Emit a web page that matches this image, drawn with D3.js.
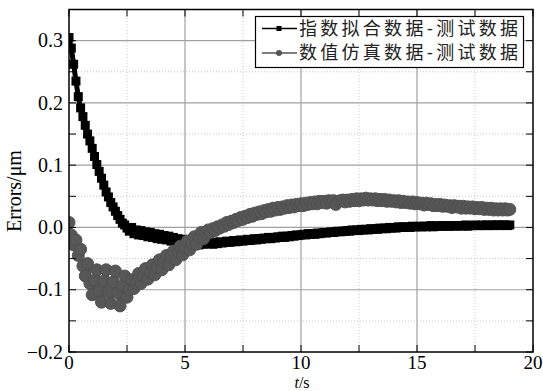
<!DOCTYPE html>
<html>
<head>
<meta charset="utf-8">
<script src="https://cdn.jsdelivr.net/npm/d3@7"></script>
<style>
  body { margin: 0; background: #fff; }
  svg { display: block; }
</style>
</head>
<body>
<figure id="chart" style="margin:0"></figure>
<script>
// sample interval of both recorded series (s)
const sampleStep = 0.1;

// 指数拟合数据-测试数据, t = 0 .. 19 s
const fitErrors = [
  0.305, 0.288, 0.262, 0.235, 0.21, 0.192, 0.178, 0.164, 0.15, 0.139,
  0.127, 0.114, 0.101, 0.09, 0.079, 0.068, 0.057, 0.049, 0.04, 0.033,
  0.026, 0.019, 0.013, 0.007, 0.004, -0.001, -0.006, 0.0, -0.01, -0.004,
  -0.012, -0.005, -0.013, -0.007, -0.015, -0.008, -0.016, -0.01, -0.018, -0.011,
  -0.019, -0.013, -0.02, -0.014, -0.022, -0.016, -0.023, -0.018, -0.024, -0.019,
  -0.025, -0.021, -0.026, -0.022, -0.027, -0.023, -0.028, -0.024, -0.027, -0.024,
  -0.026, -0.025, -0.027, -0.024, -0.026, -0.023, -0.025, -0.024, -0.022, -0.024,
  -0.023, -0.021, -0.023, -0.022, -0.02, -0.022, -0.021, -0.019, -0.021, -0.02,
  -0.018, -0.02, -0.018, -0.019, -0.017, -0.018, -0.016, -0.018, -0.016, -0.017,
  -0.015, -0.016, -0.014, -0.016, -0.014, -0.015, -0.013, -0.014, -0.012, -0.013,
  -0.012, -0.011, -0.012, -0.01, -0.011, -0.01, -0.011, -0.009, -0.01, -0.009,
  -0.008, -0.009, -0.008, -0.007, -0.008, -0.007, -0.006, -0.007, -0.006, -0.006,
  -0.005, -0.006, -0.004, -0.005, -0.004, -0.005, -0.003, -0.004, -0.003, -0.004,
  -0.002, -0.003, -0.002, -0.003, -0.001, -0.002, -0.001, -0.002, 0.0, -0.001,
  0.0, -0.001, 0.001, 0.0, 0.001, 0.0, 0.001, 0.0, 0.002, 0.001,
  0.001, 0.002, 0.001, 0.002, 0.001, 0.002, 0.003, 0.001, 0.002, 0.002,
  0.003, 0.002, 0.002, 0.003, 0.002, 0.003, 0.002, 0.003, 0.003, 0.002,
  0.003, 0.004, 0.002, 0.003, 0.003, 0.004, 0.003, 0.003, 0.004, 0.003,
  0.004, 0.003, 0.004, 0.003, 0.004, 0.004, 0.003, 0.004, 0.004, 0.003,
  0.004
];

// 数值仿真数据-测试数据, t = 0 .. 19 s
const simErrors = [
  0.008, -0.012, -0.028, -0.02, -0.045, -0.035, -0.062, -0.078, -0.058, -0.09,
  -0.108, -0.085, -0.068, -0.102, -0.12, -0.086, -0.068, -0.104, -0.122, -0.088,
  -0.07, -0.105, -0.126, -0.094, -0.078, -0.112, -0.1, -0.084, -0.098, -0.09,
  -0.074, -0.09, -0.078, -0.066, -0.083, -0.072, -0.06, -0.076, -0.064, -0.052,
  -0.068, -0.056, -0.045, -0.06, -0.048, -0.038, -0.052, -0.04, -0.03, -0.044,
  -0.032, -0.022, -0.036, -0.025, -0.015, -0.027, -0.016, -0.008, -0.018, -0.008,
  -0.004, -0.008, -0.002, -0.005, 0.001, -0.001, 0.004, 0.002, 0.008, 0.005,
  0.01, 0.008, 0.013, 0.011, 0.016, 0.013, 0.018, 0.016, 0.021, 0.018,
  0.023, 0.021, 0.025, 0.022, 0.027, 0.025, 0.029, 0.026, 0.031, 0.028,
  0.032, 0.029, 0.033, 0.031, 0.035, 0.032, 0.036, 0.033, 0.037, 0.035,
  0.038, 0.035, 0.039, 0.037, 0.04, 0.038, 0.041, 0.038, 0.042, 0.04,
  0.042, 0.039, 0.043, 0.041, 0.043, 0.037, 0.042, 0.043, 0.044, 0.041,
  0.044, 0.042, 0.045, 0.043, 0.046, 0.043, 0.046, 0.044, 0.047, 0.044,
  0.046, 0.044, 0.046, 0.043, 0.045, 0.043, 0.045, 0.042, 0.044, 0.042,
  0.043, 0.041, 0.043, 0.04, 0.042, 0.04, 0.041, 0.039, 0.041, 0.038,
  0.04, 0.038, 0.039, 0.036, 0.039, 0.037, 0.038, 0.035, 0.037, 0.035,
  0.037, 0.034, 0.036, 0.034, 0.035, 0.032, 0.035, 0.033, 0.034, 0.031,
  0.034, 0.031, 0.033, 0.031, 0.033, 0.03, 0.032, 0.03, 0.032, 0.029,
  0.031, 0.029, 0.031, 0.028, 0.03, 0.028, 0.03, 0.028, 0.03, 0.028,
  0.029
];

const seriesNames = ["指数拟合数据-测试数据", "数值仿真数据-测试数据"];
const xMajorTicks = [0, 5, 10, 15, 20];
const xMinorTicks = [2.5, 7.5, 12.5, 17.5];
const yMajorTicks = [-0.2, -0.1, 0.0, 0.1, 0.2, 0.3];
const yMinorTicks = [-0.15, -0.05, 0.05, 0.15, 0.25];

const width = 543, height = 391;
const margin = { top: 9.5, right: 10, bottom: 39, left: 69 };

const svg = d3.select("figure#chart")
  .append("svg")
  .attr("width", width)
  .attr("height", height);

const x = d3.scaleLinear()
  .domain([0, 20])
  .range([margin.left, width - margin.right]);

const y = d3.scaleLinear()
  .domain([-0.2, 0.35])
  .range([height - margin.bottom, margin.top]);

const x0 = x.range()[0], x1 = x.range()[1];
const y0 = y.range()[0], y1 = y.range()[1];

// grid: dotted minor, solid major
const grid = svg.append("g");
grid.selectAll(".xminor").data(xMinorTicks).enter().append("line")
  .attr("x1", d => x(d)).attr("x2", d => x(d)).attr("y1", y0).attr("y2", y1)
  .attr("stroke", "#c8c8c8").attr("stroke-dasharray", "1,2");
grid.selectAll(".yminor").data(yMinorTicks).enter().append("line")
  .attr("y1", d => y(d)).attr("y2", d => y(d)).attr("x1", x0).attr("x2", x1)
  .attr("stroke", "#c8c8c8").attr("stroke-dasharray", "1,2");
grid.selectAll(".xmajor").data(xMajorTicks.slice(1, -1)).enter().append("line")
  .attr("x1", d => x(d)).attr("x2", d => x(d)).attr("y1", y0).attr("y2", y1)
  .attr("stroke", "#a0a0a0").attr("stroke-width", 1.2);
grid.selectAll(".ymajor").data(yMajorTicks.slice(1)).enter().append("line")
  .attr("y1", d => y(d)).attr("y2", d => y(d)).attr("x1", x0).attr("x2", x1)
  .attr("stroke", "#a0a0a0").attr("stroke-width", 1.2);

svg.append("clipPath").attr("id", "plotclip")
  .append("rect")
  .attr("x", x0).attr("y", y1).attr("width", x1 - x0).attr("height", y0 - y1);

const plot = svg.append("g").attr("clip-path", "url(#plotclip)");

const line = d3.line()
  .x((d, i) => x(i * sampleStep))
  .y(d => y(d));

// black squares series
plot.append("path")
  .datum(fitErrors)
  .attr("fill", "none")
  .attr("stroke", "#000")
  .attr("stroke-width", 5)
  .attr("stroke-linejoin", "round")
  .attr("d", line);

plot.selectAll(".sq").data(fitErrors).enter().append("rect")
  .attr("x", (d, i) => x(i * sampleStep) - 4.5)
  .attr("y", d => y(d) - 4.5)
  .attr("width", 9)
  .attr("height", 9)
  .attr("fill", "#000");

// gray circles series
plot.append("path")
  .datum(simErrors)
  .attr("fill", "none")
  .attr("stroke", "#555")
  .attr("stroke-width", 5)
  .attr("stroke-linejoin", "round")
  .attr("d", line);

plot.selectAll(".ci").data(simErrors).enter().append("circle")
  .attr("cx", (d, i) => x(i * sampleStep))
  .attr("cy", d => y(d))
  .attr("r", 6)
  .attr("fill", "#575757")
  .attr("stroke", "#505050")
  .attr("stroke-width", 1);

// axes with inward ticks on all four sides
const tickLen = 7;
const ticks = svg.append("g").attr("stroke", "#000").attr("stroke-width", 1);
const xAll = xMajorTicks.concat(xMinorTicks);
const yAll = yMajorTicks.concat(yMinorTicks);
ticks.selectAll(".xb").data(xAll).enter().append("line")
  .attr("x1", d => x(d)).attr("x2", d => x(d)).attr("y1", y0).attr("y2", y0 - tickLen);
ticks.selectAll(".xt").data(xAll).enter().append("line")
  .attr("x1", d => x(d)).attr("x2", d => x(d)).attr("y1", y1).attr("y2", y1 + tickLen);
ticks.selectAll(".yl").data(yAll).enter().append("line")
  .attr("y1", d => y(d)).attr("y2", d => y(d)).attr("x1", x0).attr("x2", x0 + tickLen);
ticks.selectAll(".yr").data(yAll).enter().append("line")
  .attr("y1", d => y(d)).attr("y2", d => y(d)).attr("x1", x1).attr("x2", x1 - tickLen);

svg.append("rect")
  .attr("x", x0).attr("y", y1).attr("width", x1 - x0).attr("height", y0 - y1)
  .attr("fill", "none").attr("stroke", "#000").attr("stroke-width", 1.5);

const fontSerif = "'Liberation Serif', 'Times New Roman', serif";

svg.selectAll(".xlab").data(xMajorTicks).enter().append("text")
  .attr("x", d => x(d))
  .attr("y", y0 + 17)
  .attr("text-anchor", "middle")
  .style("font-family", fontSerif)
  .style("font-size", "19px")
  .text(d => d);

svg.selectAll(".ylab").data(yMajorTicks).enter().append("text")
  .attr("x", x0 - 6)
  .attr("y", d => y(d))
  .attr("dy", "0.33em")
  .attr("text-anchor", "end")
  .style("font-family", fontSerif)
  .style("font-size", "20px")
  .text(d => d3.format(".1f")(d).replace("-", "\u2212"));

// axis titles
const xt = svg.append("text")
  .attr("x", (x0 + x1) / 2 + 1)
  .attr("y", 387.5)
  .attr("text-anchor", "middle")
  .style("font-family", fontSerif)
  .style("font-size", "16px");
xt.append("tspan").style("font-style", "italic").text("t");
xt.append("tspan").text("/s");

svg.append("text")
  .attr("transform", "translate(21," + 191 + ") rotate(-90)")
  .attr("text-anchor", "middle")
  .style("font-family", fontSerif)
  .style("font-size", "20px")
  .text("Errors/μm");

// legend
const legend = svg.append("g");
legend.append("rect")
  .attr("x", 255.5).attr("y", 16.5).attr("width", 268).attr("height", 51)
  .attr("fill", "#fff").attr("stroke", "#000").attr("stroke-width", 1.2);

const legendRows = [
  { name: seriesNames[0], color: "#000", y: 28.5 },
  { name: seriesNames[1], color: "#555", y: 53 }
];

legendRows.forEach((r, i) => {
  legend.append("line")
    .attr("x1", 262).attr("x2", 297).attr("y1", r.y).attr("y2", r.y)
    .attr("stroke", r.color).attr("stroke-width", 1.5);
  if (i === 0) {
    legend.append("rect")
      .attr("x", 276.5).attr("y", r.y - 2.5).attr("width", 5).attr("height", 5)
      .attr("fill", "#000");
  } else {
    legend.append("circle")
      .attr("cx", 279).attr("cy", r.y).attr("r", 3)
      .attr("fill", "#555");
  }
  legend.append("text")
    .attr("x", 299)
    .attr("y", r.y)
    .attr("dy", "0.36em")
    .attr("textLength", 219)
    .attr("lengthAdjust", "spacing")
    .style("font-family", "'Noto Sans CJK SC', sans-serif")
    .style("font-size", "18px")
    .style("fill", "#222")
    .text(r.name);
});
</script>
</body>
</html>
